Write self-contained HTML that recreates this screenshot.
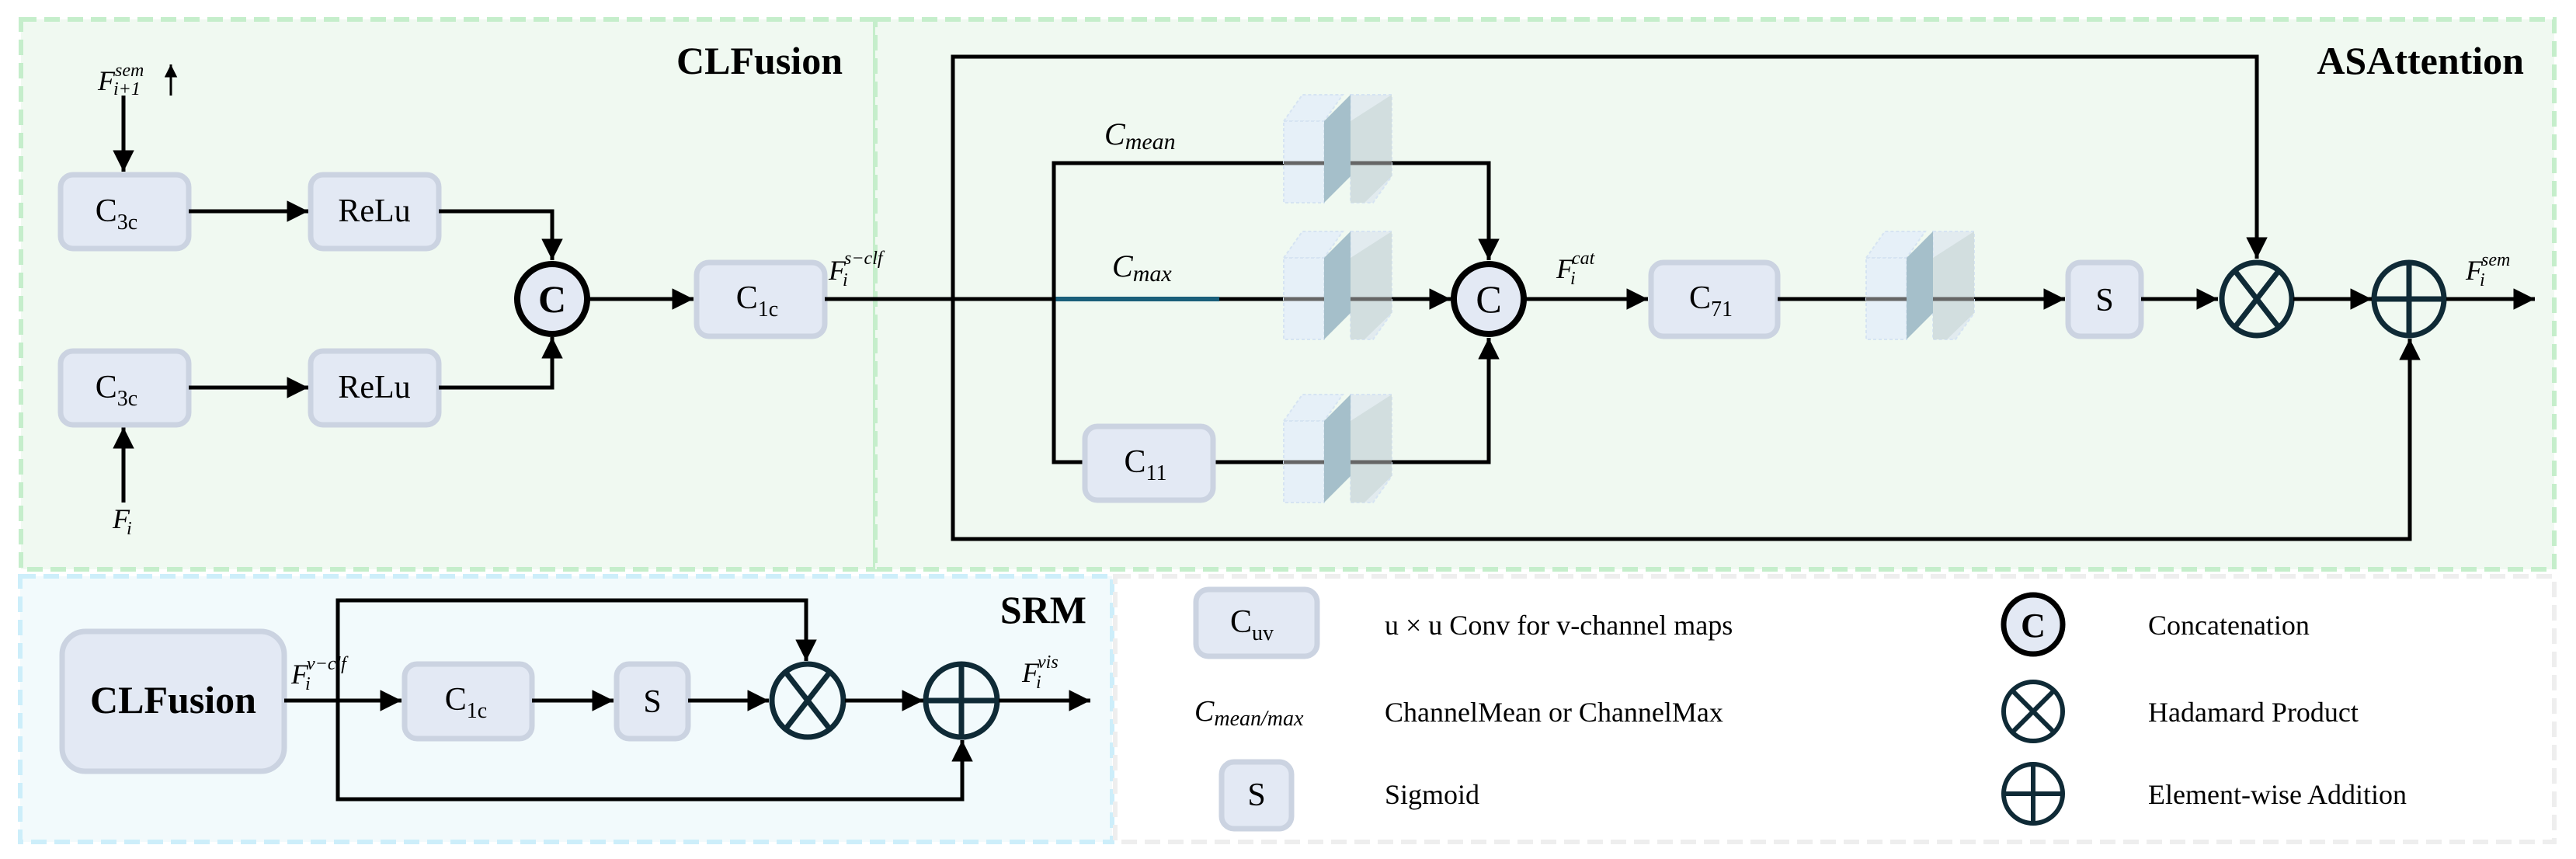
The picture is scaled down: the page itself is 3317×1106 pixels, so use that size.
<!DOCTYPE html>
<html><head><meta charset="utf-8"><style>
html,body{margin:0;padding:0;background:#fff;}
svg{display:block;font-family:"Liberation Serif",serif;}
svg text{font-family:"Liberation Serif",serif;fill:#000;}
.bx{fill:#e3e9f4;stroke:#cbd3e1;stroke-width:7;}
.t{font-size:42px;text-anchor:middle;}
.i{font-style:italic;}
.ln{stroke:#000;stroke-width:5;fill:none;}
</style></head><body>
<svg width="3317" height="1106" viewBox="0 0 3317 1106" xmlns="http://www.w3.org/2000/svg" font-family="Liberation Serif, serif">
<defs>
<marker id="a" viewBox="0 0 10 10" refX="10" refY="5" markerWidth="5.5" markerHeight="5.5" orient="auto" markerUnits="strokeWidth"><path d="M0,0 L10,5 L0,10 z" fill="#000"/></marker>
<g id="cube">
<polygon points="0,34 24,0 76,0 52,34" fill="#e6f0f8" stroke="#d6e4f2" stroke-width="2" stroke-dasharray="4,3"/>
<rect x="0" y="34" width="52" height="105" fill="#e6f0f8" stroke="#d6e4f2" stroke-width="2" stroke-dasharray="4,3"/>
<polygon points="86,0 139,0 139,105 115,139 86,139" fill="#e2ebef" stroke="#d6e4f2" stroke-width="2" stroke-dasharray="4,3"/>
<polygon points="86,34 139,0 139,105 104,139 86,139" fill="#d2dedf"/>
<polygon points="52,34 86,0 86,105 52,139" fill="#a5bfca"/>
</g>
</defs>

<rect x="27" y="25" width="1100" height="708" fill="#f0f9f1" stroke="#c5eecb" stroke-width="6" stroke-dasharray="20,10"/>
<rect x="1127" y="25" width="2162" height="708" fill="#f0f9f1" stroke="#c5eecb" stroke-width="6" stroke-dasharray="20,10"/>
<rect x="26" y="742" width="1406" height="342" fill="#f2fafc" stroke="#cdeefa" stroke-width="6" stroke-dasharray="20,10"/>
<rect x="1436" y="742" width="1853" height="342" fill="#fff" stroke="#eeeeee" stroke-width="6" stroke-dasharray="20,10"/>

<text x="1085" y="95" font-size="50" font-weight="bold" text-anchor="end">CLFusion</text>
<text x="3250" y="95" font-size="50" font-weight="bold" text-anchor="end">ASAttention</text>
<text x="1399" y="802" font-size="50" font-weight="bold" text-anchor="end">SRM</text>

<line class="ln" x1="159" y1="123" x2="159" y2="221" marker-end="url(#a)"/>
<line x1="220" y1="123" x2="220" y2="83" stroke="#000" stroke-width="3" marker-end="url(#a)"/>
<text x="126" y="116" font-size="36" class="i">F</text><text x="148" y="98" font-size="24" class="i">sem</text><text x="146" y="122" font-size="24" class="i">i+1</text>
<line class="ln" x1="159" y1="647" x2="159" y2="550" marker-end="url(#a)"/>
<text x="145" y="680" font-size="36" class="i">F</text><text x="163" y="688" font-size="24" class="i">i</text>

<rect class="bx" x="78" y="225" width="165" height="95" rx="16"/>
<text class="t" x="150" y="285">C<tspan font-size="28" dy="10">3c</tspan></text>
<rect class="bx" x="78" y="452" width="165" height="95" rx="16"/>
<text class="t" x="150" y="512">C<tspan font-size="28" dy="10">3c</tspan></text>
<rect class="bx" x="400" y="225" width="165" height="95" rx="16"/>
<text class="t" x="482" y="285">ReLu</text>
<rect class="bx" x="400" y="452" width="165" height="95" rx="16"/>
<text class="t" x="482" y="512">ReLu</text>
<line class="ln" x1="243" y1="272" x2="397" y2="272" marker-end="url(#a)"/>
<line class="ln" x1="243" y1="499" x2="397" y2="499" marker-end="url(#a)"/>
<polyline class="ln" points="565,272 711,272 711,335" marker-end="url(#a)"/>
<polyline class="ln" points="565,499 711,499 711,434" marker-end="url(#a)"/>
<circle cx="711" cy="385" r="45" fill="#e3e9f4" stroke="#000" stroke-width="8"/>
<text x="711" y="402" font-size="50" font-weight="bold" text-anchor="middle">C</text>
<line class="ln" x1="756" y1="385" x2="893" y2="385" marker-end="url(#a)"/>
<rect class="bx" x="897" y="338" width="165" height="95" rx="16"/>
<text class="t" x="975" y="397">C<tspan font-size="28" dy="10">1c</tspan></text>
<text x="1067" y="360" font-size="36" class="i">F</text><text x="1087" y="340" font-size="24" class="i">s−clf</text><text x="1085" y="368" font-size="24" class="i">i</text>

<line class="ln" x1="1062" y1="385" x2="1357" y2="385"/>
<line x1="1357" y1="385" x2="1570" y2="385" stroke="#1a5f7a" stroke-width="6"/>
<line class="ln" x1="1570" y1="385" x2="1653" y2="385"/>
<polyline class="ln" points="1227,385 1227,73 2906,73 2906,333" marker-end="url(#a)"/>
<polyline class="ln" points="1227,385 1227,694 3103,694 3103,436" marker-end="url(#a)"/>
<polyline class="ln" points="1653,210 1357,210 1357,595 1395,595"/>
<polyline class="ln" points="1792,210 1917,210 1917,335" marker-end="url(#a)"/>
<polyline class="ln" points="1792,595 1917,595 1917,435" marker-end="url(#a)"/>
<line class="ln" x1="1792" y1="385" x2="1868" y2="385" marker-end="url(#a)"/>
<line class="ln" x1="1562" y1="595" x2="1653" y2="595"/>
<use href="#cube" x="1653" y="122"/>
<use href="#cube" x="1653" y="298"/>
<use href="#cube" x="1653" y="508"/>
<g stroke="#666" stroke-width="5"><line x1="1653" y1="210" x2="1705" y2="210"/><line x1="1739" y1="210" x2="1792" y2="210"/>
<line x1="1653" y1="385" x2="1705" y2="385"/><line x1="1739" y1="385" x2="1792" y2="385"/>
<line x1="1653" y1="595" x2="1705" y2="595"/><line x1="1739" y1="595" x2="1792" y2="595"/></g>
<text x="1422" y="186" font-size="40" class="i">C<tspan font-size="30" dy="6">mean</tspan></text>
<text x="1432" y="356" font-size="40" class="i">C<tspan font-size="30" dy="6">max</tspan></text>
<rect class="bx" x="1397" y="549" width="165" height="95" rx="16"/>
<text class="t" x="1475" y="608">C<tspan font-size="28" dy="10">11</tspan></text>
<circle cx="1917" cy="385" r="45" fill="#e3e9f4" stroke="#000" stroke-width="8"/>
<text x="1917" y="402" font-size="50" text-anchor="middle">C</text>
<text x="2004" y="358" font-size="36" class="i">F</text><text x="2024" y="340" font-size="24" class="i">cat</text><text x="2022" y="366" font-size="24" class="i">i</text>
<line class="ln" x1="1962" y1="385" x2="2122" y2="385" marker-end="url(#a)"/>
<rect class="bx" x="2126" y="338" width="163" height="95" rx="16"/>
<text class="t" x="2203" y="397">C<tspan font-size="28" dy="10">71</tspan></text>
<line class="ln" x1="2289" y1="385" x2="2403" y2="385"/>
<line class="ln" x1="2542" y1="385" x2="2659" y2="385" marker-end="url(#a)"/>
<use href="#cube" x="2403" y="298"/>
<g stroke="#666" stroke-width="5"><line x1="2403" y1="385" x2="2455" y2="385"/><line x1="2489" y1="385" x2="2542" y2="385"/></g>
<rect class="bx" x="2663" y="338" width="94" height="95" rx="16"/>
<text class="t" x="2710" y="400">S</text>
<line class="ln" x1="2757" y1="385" x2="2856" y2="385" marker-end="url(#a)"/>
<g stroke="#0f2a36" stroke-width="7" fill="none">
<ellipse cx="2906" cy="385" rx="45" ry="47"/>
<line x1="2878" y1="349" x2="2934" y2="421"/><line x1="2934" y1="349" x2="2878" y2="421"/>
<ellipse cx="3102" cy="385" rx="45" ry="47"/>
<line x1="3102" y1="338" x2="3102" y2="432"/><line x1="3057" y1="385" x2="3147" y2="385"/>
</g>
<line class="ln" x1="2953" y1="385" x2="3054" y2="385" marker-end="url(#a)"/>
<line class="ln" x1="3150" y1="385" x2="3264" y2="385" marker-end="url(#a)"/>
<text x="3175" y="360" font-size="36" class="i">F</text><text x="3195" y="342" font-size="24" class="i">sem</text><text x="3193" y="368" font-size="24" class="i">i</text>

<rect class="bx" x="80" y="813" width="286" height="180" rx="30"/>
<text x="223" y="918" font-size="50" font-weight="bold" text-anchor="middle">CLFusion</text>
<line class="ln" x1="366" y1="902" x2="517" y2="902" marker-end="url(#a)"/>
<polyline class="ln" points="435,902 435,773 1038,773 1038,851" marker-end="url(#a)"/>
<polyline class="ln" points="435,902 435,1029 1239,1029 1239,953" marker-end="url(#a)"/>
<text x="375" y="880" font-size="36" class="i">F</text><text x="395" y="862" font-size="24" class="i">v−clf</text><text x="393" y="888" font-size="24" class="i">i</text>
<rect class="bx" x="521" y="855" width="164" height="96" rx="16"/>
<text class="t" x="600" y="914">C<tspan font-size="28" dy="10">1c</tspan></text>
<line class="ln" x1="685" y1="902" x2="790" y2="902" marker-end="url(#a)"/>
<rect class="bx" x="794" y="855" width="92" height="96" rx="16"/>
<text class="t" x="840" y="917">S</text>
<line class="ln" x1="886" y1="902" x2="990" y2="902" marker-end="url(#a)"/>
<g stroke="#0f2a36" stroke-width="7" fill="none">
<ellipse cx="1040" cy="902" rx="46" ry="47"/>
<line x1="1012" y1="866" x2="1068" y2="938"/><line x1="1068" y1="866" x2="1012" y2="938"/>
<ellipse cx="1238" cy="902" rx="46" ry="47"/>
<line x1="1238" y1="855" x2="1238" y2="949"/><line x1="1192" y1="902" x2="1284" y2="902"/>
</g>
<line class="ln" x1="1088" y1="902" x2="1189" y2="902" marker-end="url(#a)"/>
<line class="ln" x1="1286" y1="902" x2="1404" y2="902" marker-end="url(#a)"/>
<text x="1316" y="878" font-size="36" class="i">F</text><text x="1336" y="860" font-size="24" class="i">vis</text><text x="1334" y="886" font-size="24" class="i">i</text>

<rect class="bx" x="1540" y="759" width="156" height="86" rx="16"/>
<text class="t" x="1612" y="814">C<tspan font-size="28" dy="10">uv</tspan></text>
<text x="1783" y="817" font-size="36">u × u Conv for v-channel maps</text>
<text x="1538" y="928" font-size="38" class="i">C<tspan font-size="28" dy="6">mean/max</tspan></text>
<text x="1783" y="929" font-size="36">ChannelMean or ChannelMax</text>
<rect class="bx" x="1573" y="981" width="90" height="86" rx="16"/>
<text class="t" x="1618" y="1037">S</text>
<text x="1783" y="1035" font-size="36">Sigmoid</text>
<circle cx="2618" cy="804" r="38" fill="#e3e9f4" stroke="#000" stroke-width="7"/>
<text x="2618" y="820" font-size="44" font-weight="bold" text-anchor="middle">C</text>
<g stroke="#0f2a36" stroke-width="6" fill="none">
<circle cx="2618" cy="916" r="38"/>
<line x1="2591" y1="889" x2="2645" y2="943"/><line x1="2645" y1="889" x2="2591" y2="943"/>
<circle cx="2618" cy="1022" r="38"/>
<line x1="2618" y1="984" x2="2618" y2="1060"/><line x1="2580" y1="1022" x2="2656" y2="1022"/>
</g>
<text x="2766" y="817" font-size="36">Concatenation</text>
<text x="2766" y="929" font-size="36">Hadamard Product</text>
<text x="2766" y="1035" font-size="36">Element-wise Addition</text>
</svg>
</body></html>
